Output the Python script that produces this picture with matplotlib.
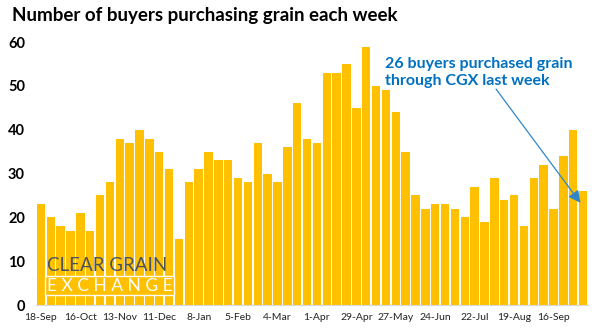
import matplotlib
matplotlib.use("Agg")
import matplotlib.pyplot as plt

weeks = list(range(56))
values = [23, 20, 18, 17, 21, 17, 25, 28, 38, 37, 40, 38, 35, 31, 15, 28, 31, 35,
          33, 33, 29, 28, 37, 30, 28, 36, 46, 38, 37, 53, 53, 55, 45, 59, 50, 49,
          44, 35, 25, 22, 23, 23, 22, 20, 27, 19, 29, 24, 25, 18, 29, 32, 22, 34,
          40, 26]
tick_labels = ["18-Sep", "16-Oct", "13-Nov", "11-Dec", "8-Jan", "5-Feb", "4-Mar",
               "1-Apr", "29-Apr", "27-May", "24-Jun", "22-Jul", "19-Aug", "16-Sep"]
tick_pos = [i * 4 for i in range(len(tick_labels))]
yticks = [0, 10, 20, 30, 40, 50, 60]

fig = plt.figure(figsize=(6.02, 3.34), dpi=100)
ax = fig.add_axes([0.0598, 0.0868, 0.917, 0.787])
ax.bar(weeks, values, width=0.86, color="#FFC000", edgecolor="none")
ax.set_xlim(-0.5, 55.5)
ax.set_ylim(0, 60)
for s in ["top", "right", "left"]:
    ax.spines[s].set_visible(False)
ax.spines["bottom"].set_color("#D9D9D9")
ax.set_xticks(tick_pos)
ax.set_xticklabels(tick_labels, fontsize=7.5, color="#222222", family="Lato")
ax.set_yticks(yticks)
ax.set_yticklabels([str(v) for v in yticks], fontsize=10.5, fontweight="bold",
                   family="Lato")
ax.tick_params(axis="both", length=0)
ax.tick_params(axis="y", pad=8)
ax.tick_params(axis="x", pad=6)

fig.text(0.02, 0.955, "Number of buyers purchasing grain each week",
         fontsize=13.5, fontweight="bold", family="Lato", va="center", ha="left")

ax.text(34.9, 56.7, "26 buyers purchased grain\nthrough CGX last week",
        color="#0070C0", fontsize=11.5, fontweight="bold", family="Lato",
        va="top", ha="left", linespacing=1.3)
ax.annotate("", xy=(54.9, 22.8), xytext=(46.0, 49.8),
            arrowprops=dict(arrowstyle="-|>", color="#2E86C8", lw=0.9,
                            mutation_scale=18))

# logo
fig.text(0.078, 0.205, "CLEAR GRAIN", fontsize=13.5, color="#4A5360",
         family="Lato", va="center", ha="left")
fig.text(0.078, 0.145, "E X C H A N G E", fontsize=12.5, color="white",
         family="Lato", va="center", ha="left",
         bbox=dict(boxstyle="square,pad=0.1", facecolor="#FFC000",
                   edgecolor="white", lw=1))

fig.savefig("out.png", dpi=100)
